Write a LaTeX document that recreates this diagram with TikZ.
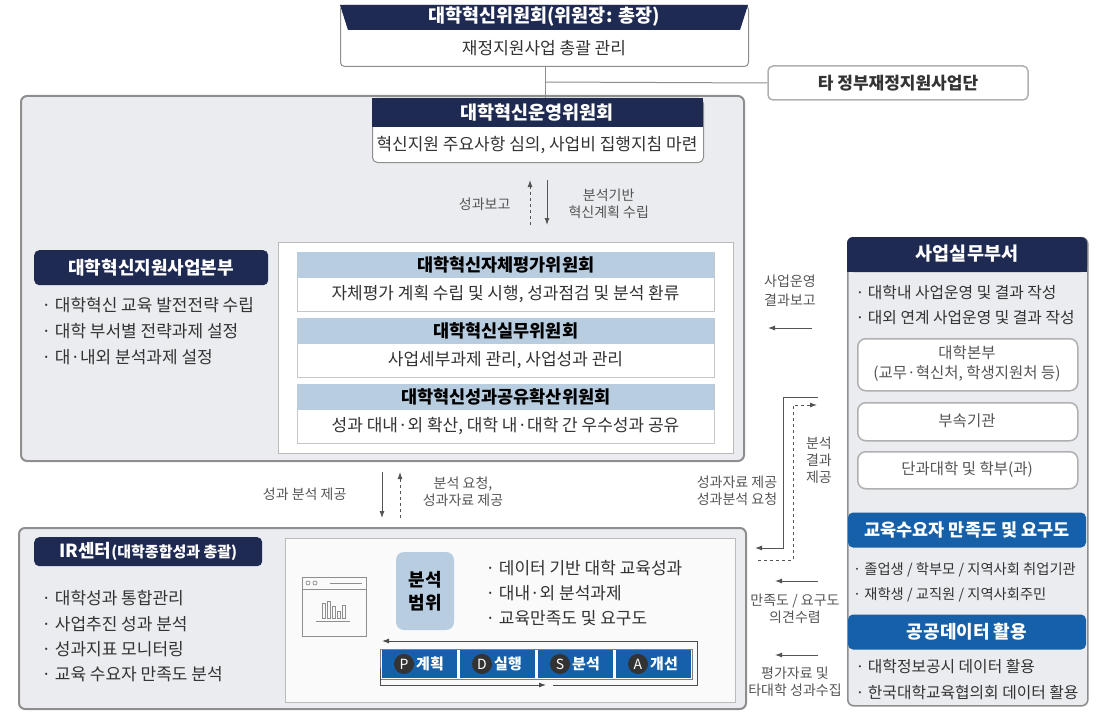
\documentclass[tikz,border=0pt]{standalone}
\usepackage{fontspec}
\setmainfont{Noto Sans CJK KR}
\usetikzlibrary{arrows.meta}
\definecolor{navy}{HTML}{1F2A52}
\definecolor{blu}{HTML}{1560A8}
\definecolor{lblu}{HTML}{B9CDE0}
\definecolor{gbg}{HTML}{EBECF0}
\definecolor{gbd}{HTML}{8E8E8E}
\definecolor{txt}{HTML}{333333}
\definecolor{lbl}{HTML}{555555}
\begin{document}
\begin{tikzpicture}[x=1pt,y=-1pt,
  every node/.style={text=txt,font=\fontsize{17}{20}\selectfont},
  bigbox/.style={draw=gbd,line width=2pt,fill=gbg,rounded corners=6pt},
  wbox/.style={draw=gbd!70,line width=1.5pt,fill=white,rounded corners=8pt},
  hdr/.style={fill=navy,text=white,font=\fontsize{18}{21}\selectfont\bfseries},
  sub/.style={fill=lblu,font=\fontsize{17.5}{20}\selectfont\bfseries,text=black},
  lab/.style={text=lbl,font=\fontsize{14}{17}\selectfont,align=center},
  arr/.style={-{Latex[length=7pt,width=5pt]},line width=0.9pt,draw=lbl},
  darr/.style={arr,dashed},
  bul/.style={anchor=west,font=\fontsize{17}{20}\selectfont},
  wbul/.style={anchor=west,font=\fontsize{15.8}{19}\selectfont},
  pd/.style={fill=blu,text=white,font=\fontsize{15}{18}\selectfont\bfseries,minimum height=28pt,minimum width=75pt,inner sep=0pt},
  circ/.style={circle,fill=black!80,text=white,inner sep=0pt,minimum size=20pt,font=\fontsize{14}{16}\selectfont}]
\useasboundingbox (0,0) rectangle (1104,717);
% top committee
\node[draw=gbd,line width=1pt,rounded corners=4pt,minimum width=408pt,minimum height=61pt,anchor=north west,fill=white] (top) at (340,5) {};
\fill[navy] (340,5) -- (748,5) -- (740,30) -- (348,30) -- cycle;
\node[text=white,font=\fontsize{18.5}{21}\selectfont\bfseries] (toph) at (544,17) {대학혁신위원회(위원장: 총장)};
\node (topt) at (544,48) {재정지원사업 총괄 관리};
\node[draw=gbd!70,line width=1.5pt,rounded corners=5pt,minimum width=260pt,minimum height=34pt,fill=white,font=\fontsize{17}{20}\selectfont\bfseries] (other) at (898,83) {타 정부재정지원사업단};
% big gray box
\node[bigbox,minimum width=723pt,minimum height=365pt,anchor=north west] (big) at (20,95) {};
\coordinate (jn) at (545,82);
\draw[gbd,line width=1pt] (top.south -| jn) -- (545,98);
\draw[gbd,line width=1pt] (jn) -- (other.west);
% operating committee
\node[draw=gbd,line width=1pt,fill=white,rounded corners=5pt,minimum width=331pt,minimum height=64pt,anchor=north west] (op) at (372,98) {};
\fill[navy] (372,98) rectangle (703,127);
\node[text=white,font=\fontsize{18.5}{21}\selectfont\bfseries] (oph) at (537,113) {대학혁신운영위원회};
\node (opt) at (537,145) {혁신지원 주요사항 심의, 사업비 집행지침 마련};
\coordinate (u1) at (530,225); \coordinate (u2) at (530,180);
\coordinate (d1) at (547,180); \coordinate (d2) at (547,225);
\draw[darr] (u1) -- (u2);
\draw[arr] (d1) -- (d2);
\node[lab,anchor=east] (l1) at (514,204) {성과보고};
\node[lab,anchor=west] (l2) at (565,204) {분석기반\\혁신계획 수립};
% HQ
\node[hdr,rounded corners=5pt,minimum width=234pt,minimum height=35pt,anchor=north west] (hq) at (34,250) {대학혁신지원사업본부};
\node[bul] (b1) at (38,305) {· 대학혁신 교육 발전전략 수립};
\node[bul] (b2) at (38,331) {· 대학 부서별 전략과제 설정};
\node[bul] (b3) at (38,357) {· 대·내외 분석과제 설정};
% inner white box
\node[draw=gbd!60,line width=1pt,fill=white,minimum width=455pt,minimum height=211pt,anchor=north west] (inn) at (278,242) {};
\foreach \n/\y/\h/\t in {s1/252/대학혁신자체평가위원회/자체평가 계획 수립 및 시행{,} 성과점검 및 분석 환류, s2/318/대학혁신실무위원회/사업세부과제 관리{,} 사업성과 관리, s3/384/대학혁신성과공유확산위원회/성과 대내·외 확산{,} 대학 내·대학 간 우수성과 공유}{
  \node[draw=gbd!50,fill=white,minimum width=417pt,minimum height=59pt,anchor=north west] (\n) at (297,\y) {};
  \node[sub,minimum width=417pt,minimum height=26pt,anchor=north west] (\n h) at (297,\y) {\h};
  \node (\n t) at (505.5,\y+42) {\t};
}
% right arrows labels
\node[lab] (l3) at (790,291) {사업운영\\[2pt]결과보고};
\coordinate (r1a) at (812,328); \coordinate (r1b) at (768,328);
\draw[arr] (r1a) -- (r1b);
% work dept box
\node[bigbox,line width=1.6pt,minimum width=240pt,minimum height=468pt,anchor=north west] (wd) at (847,237) {};
\fill[navy,rounded corners=6pt] (847,237) rectangle (1087,272);
\fill[navy] (847,262) rectangle (1087,272);
\node[text=white,font=\fontsize{18.5}{21}\selectfont\bfseries] (wdh) at (967,254) {사업실무부서};
\node[wbul] (w1) at (852,293) {· 대학내 사업운영 및 결과 작성};
\node[wbul] (w2) at (852,318) {· 대외 연계 사업운영 및 결과 작성};
\node[wbox,minimum width=220pt,minimum height=52pt,align=center,anchor=north west] (wa) at (857,338) {};
\node[text=lbl,align=center,font=\fontsize{15.5}{20}\selectfont] (wat) at (967,364) {대학본부\\(교무·혁신처, 학생지원처 등)};
\node[wbox,minimum width=220pt,minimum height=38pt,anchor=north west] (wb) at (857,402) {};
\node[text=lbl,font=\fontsize{15.5}{19}\selectfont] (wbt) at (967,421) {부속기관};
\node[wbox,minimum width=220pt,minimum height=37pt,anchor=north west] (wc) at (857,451) {};
\node[text=lbl,font=\fontsize{15.5}{19}\selectfont] (wct) at (967,469.5) {단과대학 및 학부(과)};
\node[fill=blu,rounded corners=5pt,text=white,font=\fontsize{17.5}{20}\selectfont\bfseries,minimum width=238pt,minimum height=35pt] (ed) at (967,530) {교육수요자 만족도 및 요구도};
\node[wbul,font=\fontsize{14.3}{18}\selectfont,inner sep=1pt] (e1) at (852,570) {· 졸업생 / 학부모 / 지역사회 취업기관};
\node[wbul,font=\fontsize{14.3}{18}\selectfont,inner sep=1pt] (e2) at (852,595) {· 재학생 / 교직원 / 지역사회주민};
\node[fill=blu,rounded corners=5pt,text=white,font=\fontsize{18}{21}\selectfont\bfseries,minimum width=238pt,minimum height=35pt] (pub) at (967,632) {공공데이터 활용};
\node[wbul] (p1) at (852,667) {· 대학정보공시 데이터 활용};
\node[wbul] (p2) at (852,693) {· 한국대학교육협의회 데이터 활용};
% bent arrows
\coordinate (ba) at (818,397); \coordinate (bb) at (783,397); \coordinate (bc) at (783,548); \coordinate (bd) at (755,548);
\draw[arr] (ba) -- (bb) -- (bc) -- (bd);
\coordinate (ca) at (758,560); \coordinate (cb) at (793,560); \coordinate (cc) at (793,405); \coordinate (cd) at (817,405);
\draw[darr] (ca) -- (cb) -- (cc) -- (cd);
\node[lab,text width=20pt] (l4) at (816,460) {분석\\결과\\제공};
\node[lab] (l5) at (737,491) {성과자료 제공\\성과분석 요청};
\coordinate (r2a) at (818,581); \coordinate (r2b) at (775,581);
\draw[arr] (r2a) -- (r2b);
\node[lab] (l6) at (795,609) {만족도 / 요구도\\의견수렴};
\coordinate (r3a) at (818,655); \coordinate (r3b) at (775,655);
\draw[arr] (r3a) -- (r3b);
\node[lab] (l7) at (795,682) {평가자료 및\\타대학 성과수집};
% middle arrows
\coordinate (m1) at (382,472); \coordinate (m2) at (382,518);
\coordinate (m3) at (400,518); \coordinate (m4) at (400,472);
\draw[arr] (m1) -- (m2);
\draw[darr] (m3) -- (m4);
\node[lab,anchor=east] (l8) at (350,494) {성과 분석 제공};
\node[lab] (l9) at (463,492) {분석 요청,\\성과자료 제공};
% IR box
\node[bigbox,minimum width=727pt,minimum height=181pt,anchor=north west] (ir) at (18,527) {};
\node[hdr,rounded corners=5pt,minimum width=228pt,minimum height=29pt,anchor=north west] (irh) at (34,537) {IR센터{\fontsize{15}{18}\selectfont(대학종합성과 총괄)}};
\node[bul] (i1) at (38,598) {· 대학성과 통합관리};
\node[bul] (i2) at (38,624) {· 사업추진 성과 분석};
\node[bul] (i3) at (38,649) {· 성과지표 모니터링};
\node[bul] (i4) at (38,674) {· 교육 수요자 만족도 분석};
\node[draw=gbd!60,line width=1pt,fill=gray!4,minimum width=450pt,minimum height=164pt,anchor=north west] (irin) at (285,538) {};
% icon
\node[draw=gbd,line width=1pt,minimum width=64pt,minimum height=59pt,anchor=north west] (ico) at (302,577) {};
\draw[gbd,line width=0.8pt] (302,589) -- (366,589);
\draw[gbd,line width=0.8pt] (330,583) -- (362,583);
\foreach \cx in {308,315}{\draw[gbd,line width=0.7pt] (\cx,583) circle (2pt);}
\foreach \bx/\bt in {322/603,327/601,332/606,337/611,342/605}{\draw[gbd,line width=0.7pt] (\bx,618) rectangle (\bx+3,\bt);}
\draw[gbd,line width=0.8pt] (316,621) -- (350,621);
\node[fill=lblu,rounded corners=8pt,minimum width=58pt,minimum height=78pt,align=center,font=\fontsize{18}{23}\selectfont\bfseries,text=black] (rng) at (425,591) {분석\\범위};
\node[bul] (r1) at (482,568) {· 데이터 기반 대학 교육성과};
\node[bul] (r2) at (482,593) {· 대내·외 분석과제};
\node[bul] (r3) at (482,618) {· 교육만족도 및 요구도};
% PDSA
\node[pd] (P) at (419,664) {\hspace*{22pt}계획};
\node[pd] (D) at (497,664) {\hspace*{22pt}실행};
\node[pd] (S) at (575,664) {\hspace*{22pt}분석};
\node[pd] (A) at (653,664) {\hspace*{22pt}개선};
\node[draw=black!50,line width=0.8pt,minimum width=312pt,minimum height=30pt] (bar) at (536,664) {};
\foreach \n/\l in {P/P,D/D,S/S,A/A}{\node[circ] (c\n) at ([xshift=-15pt]\n.center) {\l};}
\coordinate (q1) at (553,685); \coordinate (q2) at (697,685); \coordinate (q3) at (697,641); \coordinate (q4) at (382,641);
\draw[arr,draw=black!70] (q1) -- (q2) -- (q3) -- (q4);
\coordinate (q5) at (380,668); \coordinate (q6) at (380,685); \coordinate (q7) at (546,685);
\draw[arr,draw=black!70] (q5) -- (q6) -- (q7);
\end{tikzpicture}
\end{document}
